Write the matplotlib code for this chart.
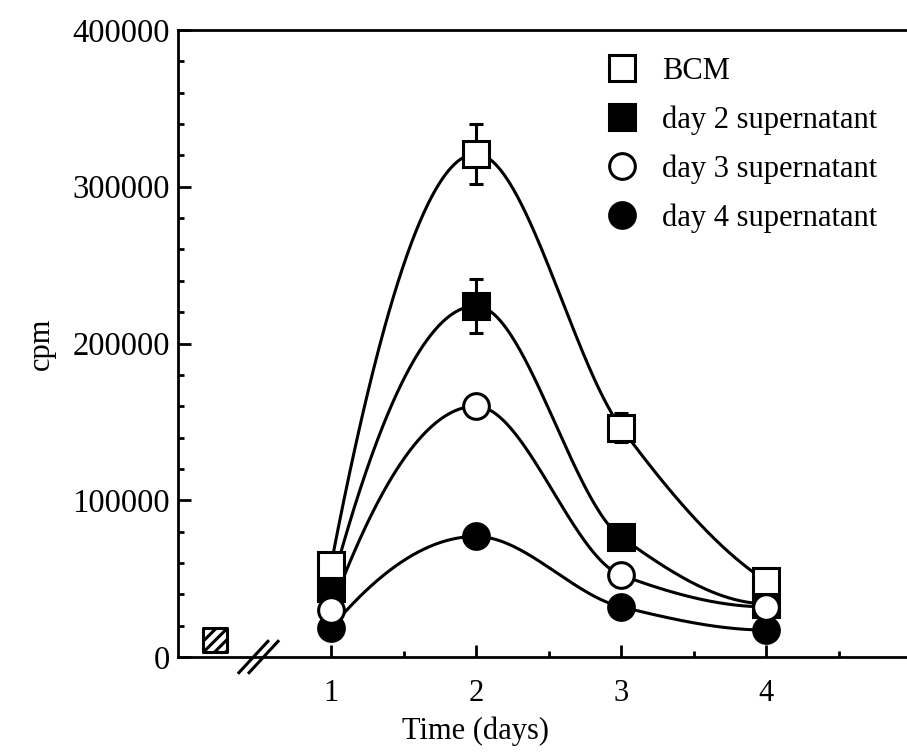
import numpy as np
import matplotlib
matplotlib.use("Agg")
import matplotlib.pyplot as plt
from matplotlib.lines import Line2D
from matplotlib.ticker import MultipleLocator, FixedLocator

# values
days = [1, 2, 3, 4]
bcm = [58700, 321000, 146400, 48500]
bcm_err = [0, 19000, 9000, 0]
sup_day2 = [44000, 224000, 76500, 34000]
sup_day2_err = [0, 17000, 0, 0]
sup_day3 = [30000, 160000, 52300, 32000]
sup_day4 = [18500, 76900, 32000, 17200]
control_day = [0.2]
control_cpm = [11000]
labels = ["BCM", "day 2 supernatant", "day 3 supernatant", "day 4 supernatant"]

plt.rcParams["font.family"] = ["Liberation Serif", "DejaVu Serif"]
plt.rcParams["hatch.linewidth"] = 2.2


def pchip(x, y, num=300):
    """Monotone cubic (Fritsch-Carlson) through the points, only for drawing the curve."""
    x = np.asarray(x, float)
    y = np.asarray(y, float)
    h = np.diff(x)
    delta = np.diff(y) / h
    n = len(x)
    d = np.zeros(n)
    for k in range(1, n - 1):
        if delta[k - 1] * delta[k] > 0:
            w1 = 2 * h[k] + h[k - 1]
            w2 = h[k] + 2 * h[k - 1]
            d[k] = (w1 + w2) / (w1 / delta[k - 1] + w2 / delta[k])
    # end slopes
    for k, (h0, h1, d0, d1) in ((0, (h[0], h[1], delta[0], delta[1])),
                                 (n - 1, (h[-1], h[-2], delta[-1], delta[-2]))):
        s = ((2 * h0 + h1) * d0 - h0 * d1) / (h0 + h1)
        if np.sign(s) != np.sign(d0):
            s = 0.0
        elif np.sign(d0) != np.sign(d1) and abs(s) > abs(3 * d0):
            s = 3 * d0
        d[k] = s
    xs = np.linspace(x[0], x[-1], num)
    idx = np.clip(np.searchsorted(x, xs) - 1, 0, n - 2)
    t = (xs - x[idx]) / h[idx]
    h00 = 2 * t ** 3 - 3 * t ** 2 + 1
    h10 = t ** 3 - 2 * t ** 2 + t
    h01 = -2 * t ** 3 + 3 * t ** 2
    h11 = t ** 3 - t ** 2
    ys = h00 * y[idx] + h10 * h[idx] * d[idx] + h01 * y[idx + 1] + h11 * h[idx] * d[idx + 1]
    return xs, ys


fig = plt.figure(figsize=(9.07, 7.52), dpi=100)
ax = fig.add_axes([178 / 907, 95 / 752, 729 / 907, 627 / 752])

lw = 2.2
msize = 18.5
# drawing order: filled marks below open ones
series = [
    (sup_day4, None, "o", "black"),
    (sup_day2, sup_day2_err, "s", "black"),
    (sup_day3, None, "o", "white"),
    (bcm, bcm_err, "s", "white"),
]
for vals, err, mk, fc in series:
    xs, ys = pchip(days, vals)
    ax.plot(xs, ys, color="black", lw=lw, zorder=2)
    if err is not None:
        ax.errorbar(days, vals, yerr=err, fmt="none", ecolor="black",
                    elinewidth=lw, capsize=5, capthick=lw, zorder=3)
for z, (vals, err, mk, fc) in enumerate(series):
    ax.plot(days, vals, linestyle="none", marker=mk, markersize=msize,
            markerfacecolor=fc, markeredgecolor="black", markeredgewidth=lw,
            zorder=4 + z)

# hatched control box
ax.scatter(control_day, control_cpm, marker="s", s=300, facecolor="white",
           edgecolor="black", linewidths=2.2, hatch="///", zorder=5, clip_on=False)

ax.set_xlim(-0.055, 4.972)
ax.set_ylim(0, 400000)

ax.xaxis.set_major_locator(FixedLocator(days))
ax.xaxis.set_minor_locator(FixedLocator([1.5, 2.5, 3.5, 4.5]))
ax.yaxis.set_major_locator(MultipleLocator(100000))
ax.yaxis.set_minor_locator(MultipleLocator(20000))
ax.tick_params(which="both", direction="in", width=2, top=False, right=False,
               labelsize=22)
ax.tick_params(axis="y", labelsize=23.5)
ax.tick_params(which="major", length=9)
ax.tick_params(which="minor", length=4.5)
ax.tick_params(axis="x", which="major", pad=16)
ax.tick_params(axis="y", which="major", pad=6)

ax.spines["right"].set_visible(False)
for s in ["left", "bottom", "top"]:
    ax.spines[s].set_linewidth(2)

ax.set_xlabel("Time (days)", fontsize=22)
ax.xaxis.set_label_coords((476 - 178) / 729, -0.095)
ax.set_ylabel("cpm", fontsize=22)
ax.yaxis.set_label_coords(-0.168, 0.5)

# axis break marks around day 0.5
bx = 0.5
for dx in (-0.035, 0.035):
    ax.plot([bx + dx - 0.1, bx + dx + 0.1], [-10000, 10000], color="black",
            lw=2.2, clip_on=False, zorder=6)

legend_style = [("s", "white"), ("s", "black"), ("o", "white"), ("o", "black")]
handles = [Line2D([], [], linestyle="none", marker=mk, markersize=msize,
                  markerfacecolor=fc, markeredgecolor="black", markeredgewidth=lw)
           for mk, fc in legend_style]
ax.legend(handles, labels, loc="upper left", bbox_to_anchor=(0.572, 0.977),
          frameon=False, fontsize=22, handlelength=1.0, handletextpad=0.8,
          labelspacing=0.64, borderaxespad=0)

fig.savefig("out.png", dpi=100)
